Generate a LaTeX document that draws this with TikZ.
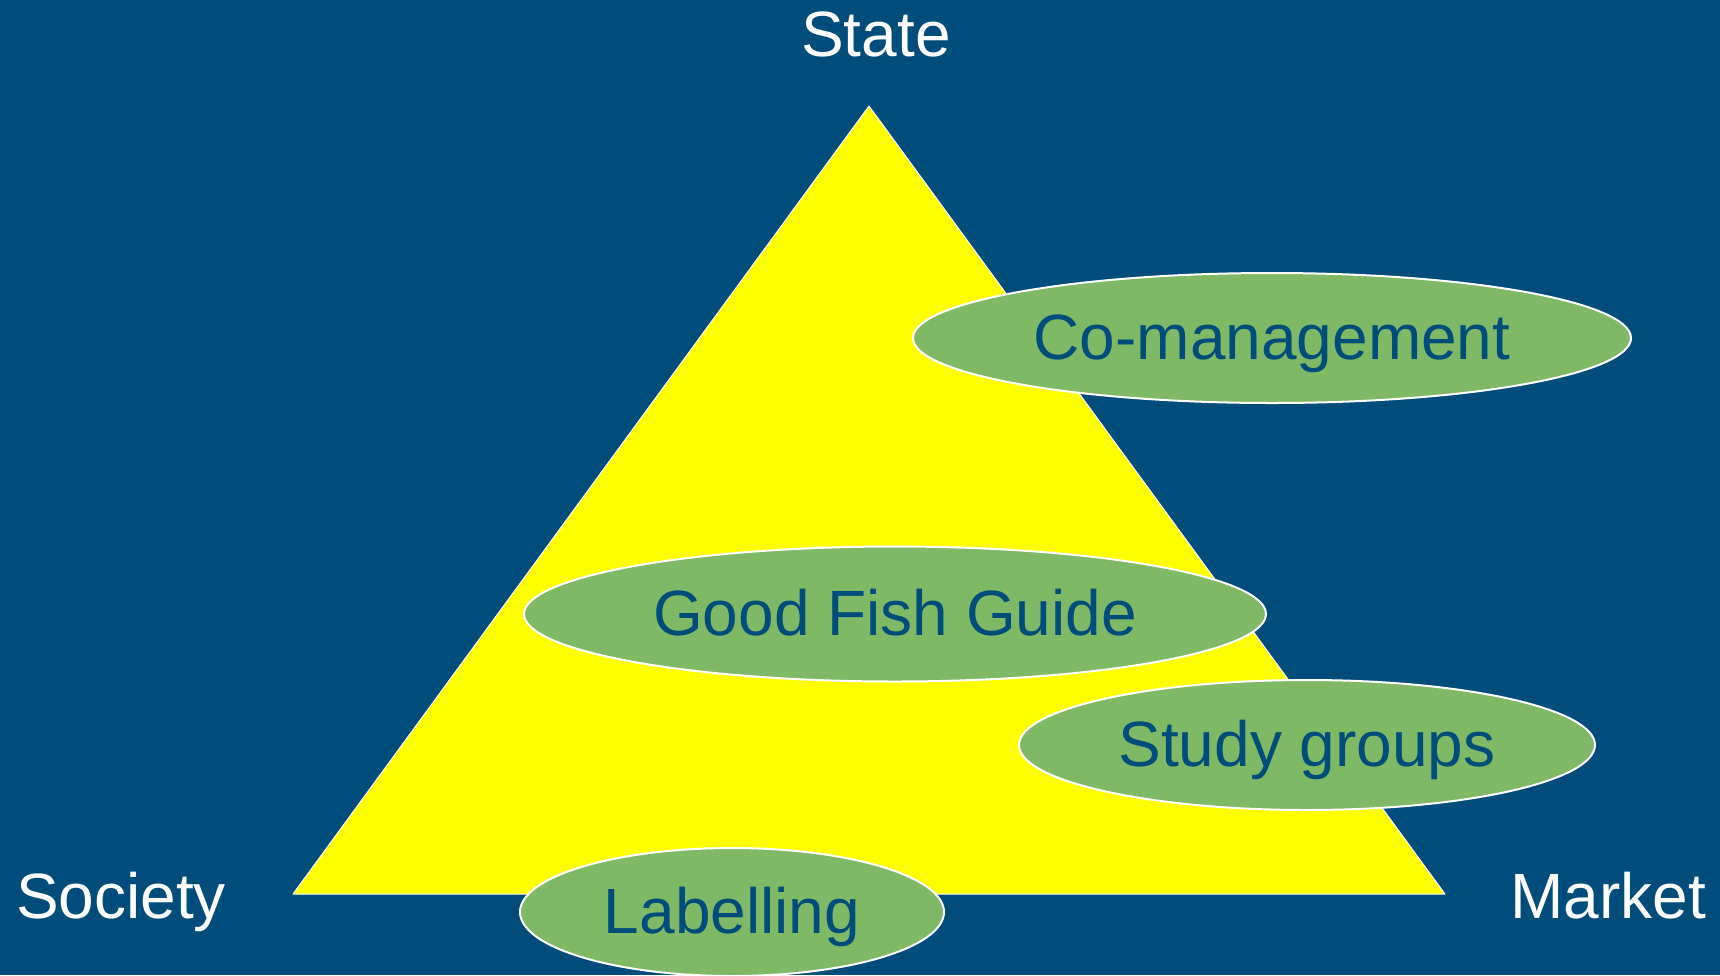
\documentclass[tikz,border=0pt]{standalone}
\usepackage{fontspec}
\setmainfont{Liberation Sans}
\usetikzlibrary{shapes.geometric}
\definecolor{navy}{RGB}{0,76,122}
\definecolor{leaf}{RGB}{128,185,102}
\definecolor{lemon}{RGB}{255,255,0}
\begin{document}
\begin{tikzpicture}[x=1pt,y=-1pt,line join=round,
  corner/.style={text=white,font=\fontsize{64}{76}\selectfont,text height=46pt,text depth=0pt},
  tool/.style={ellipse,draw=white,line width=2pt,fill=leaf,text=navy,inner sep=0pt,
    font=\fontsize{64}{76}\selectfont,text height=46pt,text depth=4pt}]
\fill[navy](0,0) rectangle (1720,975);
\useasboundingbox (0,0) rectangle (1720,975);
\clip (0,0) rectangle (1720,975);

    \coordinate (apex) at (869,106);
    \coordinate (left) at (293,894);
    \coordinate (right) at (1445,894);
\filldraw[color=white,fill=lemon,line width=1pt](apex)--(right)--(left)--cycle;

    \node[corner] (state) at (876,33) {State};
    \node[corner] (society) at (121,895) {Society};
    \node[corner] (market) at (1608,895) {Market};

    \node[tool,minimum width=718,minimum height=130] (coman) at (1272,338) {Co-management};
    \node[tool,minimum width=742,minimum height=135] (guide) at (895,614) {Good Fish Guide};
    \node[tool,minimum width=576,minimum height=130] (study) at (1307,745) {Study groups};
    \node[tool,minimum width=424,minimum height=128] (label) at (732,912) {Labelling};
  \end{tikzpicture}
\end{document}
